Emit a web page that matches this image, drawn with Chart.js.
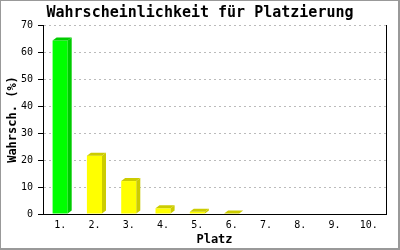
<!DOCTYPE html>
<html>
<head>
<meta charset="utf-8">
<script src="https://cdn.jsdelivr.net/npm/chart.js@4"></script>
<style>
html,body{margin:0;padding:0;background:#fff;}
#wrap{width:400px;height:250px;position:relative;}
</style>
</head>
<body>
<div id="wrap"><canvas id="c" width="400" height="250"></canvas></div>
<script>
const categories = ["1.", "2.", "3.", "4.", "5.", "6.", "7.", "8.", "9.", "10."];
const values = [64.3, 21.6, 12.2, 2.1, 0.8, 0.2, 0, 0, 0, 0];
const yTicks = [0, 10, 20, 30, 40, 50, 60, 70];
const titleText = "Wahrscheinlichkeit für Platzierung";
const xTitle = "Platz";
const yTitle = "Wahrsch. (%)";

const MONO = "'DejaVu Sans Mono', 'Liberation Mono', monospace";
const frontColor = (i) => i === 0 ? '#00ff00' : '#ffff00';
const shadeColor = (i) => i === 0 ? '#00cc00' : '#cccc00';

const framePlugin = {
  id: 'frame',
  beforeDraw(chart) {
    const ctx = chart.ctx;
    ctx.save();
    ctx.fillStyle = '#fff';
    ctx.fillRect(0, 0, chart.width, chart.height);
    ctx.fillStyle = '#999';
    ctx.fillRect(0, 0, chart.width, 1);
    ctx.fillRect(0, 0, 1, chart.height);
    ctx.fillRect(chart.width - 2, 0, 2, chart.height);
    ctx.fillRect(0, chart.height - 2, chart.width, 2);
    ctx.restore();
  }
};

const depthPlugin = {
  id: 'depth',
  afterDatasetsDraw(chart) {
    const ctx = chart.ctx;
    const meta = chart.getDatasetMeta(0);
    const dx = 4, dy = 3;
    ctx.save();
    meta.data.forEach((bar, i) => {
      if (!values[i]) return;
      const p = bar.getProps(['x', 'y', 'base', 'width'], true);
      const l = p.x - p.width / 2, r = p.x + p.width / 2;
      ctx.fillStyle = shadeColor(i);
      ctx.beginPath();
      ctx.moveTo(r, p.y);
      ctx.lineTo(r + dx, p.y - dy);
      ctx.lineTo(r + dx, p.base - dy);
      ctx.lineTo(r, p.base);
      ctx.closePath();
      ctx.fill();
      ctx.beginPath();
      ctx.moveTo(l, p.y);
      ctx.lineTo(l + dx, p.y - dy);
      ctx.lineTo(r + dx, p.y - dy);
      ctx.lineTo(r, p.y);
      ctx.closePath();
      ctx.fill();
    });
    ctx.restore();
  }
};

new Chart(document.getElementById('c'), {
  type: 'bar',
  data: {
    labels: categories,
    datasets: [{
      data: values,
      backgroundColor: (c) => frontColor(c.dataIndex),
      borderWidth: 0,
      categoryPercentage: 1,
      barPercentage: 0.44
    }]
  },
  options: {
    responsive: false,
    animation: false,
    devicePixelRatio: 1,
    layout: { padding: 0 },
    plugins: {
      legend: { display: false },
      tooltip: { enabled: false },
      title: {
        display: true,
        text: titleText,
        color: '#000',
        font: { family: MONO, size: 15, weight: 'bold', lineHeight: 1.2 },
        padding: { top: 4, bottom: 3 }
      }
    },
    scales: {
      x: {
        grid: { drawOnChartArea: false, drawTicks: false },
        border: { color: '#000', width: 1 },
        ticks: { color: '#000', font: { family: MONO, size: 10 }, padding: 5, maxRotation: 0 },
        title: { display: true, text: xTitle, color: '#000', font: { family: MONO, size: 12, weight: 'bold', lineHeight: 1.2 }, padding: { top: 0, bottom: 3 } },
        afterFit(s) { s.height = 36; }
      },
      y: {
        min: 0, max: 70,
        afterBuildTicks(s) { s.ticks = yTicks.map(v => ({ value: v })); },
        grid: { color: '#bbbbbb', tickColor: '#000', tickLength: 5, lineWidth: 1 },
        border: { color: '#000', width: 1, dash: [2, 3] },
        ticks: { color: '#000', font: { family: MONO, size: 10 }, padding: 5 },
        title: { display: true, text: yTitle, color: '#000', font: { family: MONO, size: 12, weight: 'bold', lineHeight: 1.2 }, padding: { top: 6, bottom: 0 } },
        afterFit(s) { s.width = 43; }
      },
      y2: {
        position: 'right',
        min: 0, max: 70,
        grid: { display: false, drawTicks: false },
        border: { color: '#000', width: 1 },
        ticks: { display: false },
        afterFit(s) { s.width = 14; }
      }
    }
  },
  plugins: [framePlugin, depthPlugin]
});
</script>
</body>
</html>
